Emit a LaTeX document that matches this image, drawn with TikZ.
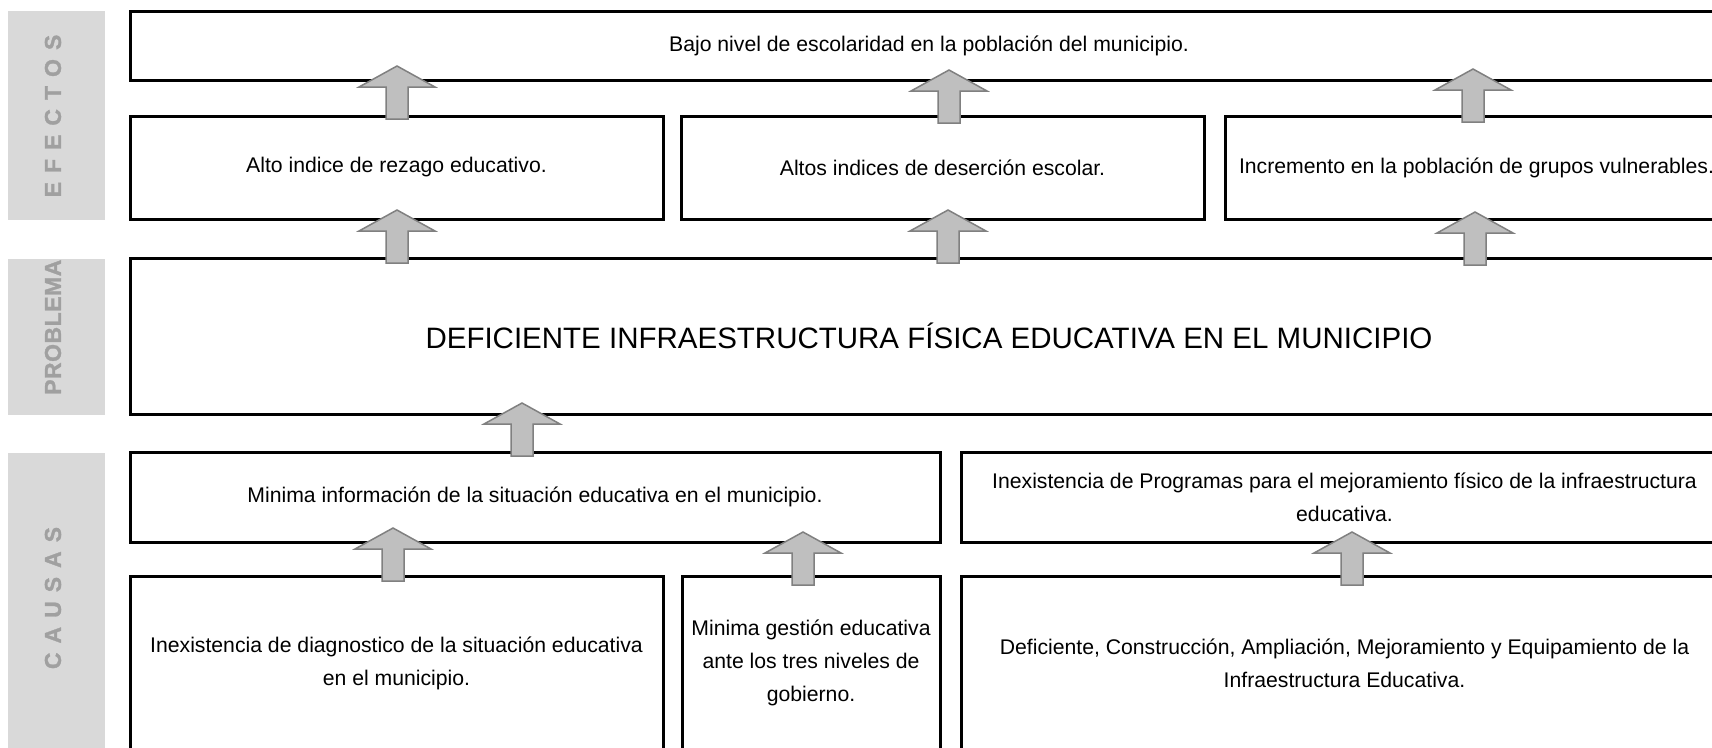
\documentclass[tikz,border=0pt]{standalone}
\usepackage{fontspec}
\setmainfont{Liberation Sans}
\newfontfamily\sidefont[FakeBold=1.2]{Liberation Sans Bold}
\definecolor{bandgray}{HTML}{D9D9D9}
\definecolor{bandtext}{HTML}{A0A0A0}
\definecolor{arrfill}{HTML}{BFBFBF}
\definecolor{arrline}{HTML}{808080}
\newcommand\lsp{\hspace{9pt}}
\newcommand\blkarrow[2]{%
  \draw[blkarrowstyle] (#1-11,#2+53) -- (#1-11,#2+21) -- (#1-38,#2+21) -- (#1,#2)
    -- (#1+38,#2+21) -- (#1+11,#2+21) -- (#1+11,#2+53) -- cycle;}
\begin{document}
\begin{tikzpicture}[x=1pt,y=-1pt,
  box/.style={draw=black, line width=3pt, fill=white, align=center,
    inner sep=0pt, outer sep=0pt, font=\fontsize{21.2}{33}\selectfont},
  blkarrowstyle/.style={fill=arrfill, draw=arrline, line width=1.5pt, line join=miter},
  sidelbl/.style={text=bandtext, font=\sidefont\fontsize{23}{23}\selectfont,
    rotate=90, inner sep=0pt}]
\useasboundingbox (0,0) rectangle (1712,747);
% side bands
\fill[bandgray] (8,11) rectangle (105,220);
\fill[bandgray] (8,259) rectangle (105,415);
\fill[bandgray] (8,453) rectangle (105,760);
\node[sidelbl] (efe) at (53,116) {E\lsp F\lsp E\lsp C\lsp T\lsp O\lsp S};
\begin{scope}
  \clip (8,259) rectangle (105,415);
  \node[sidelbl, anchor=west] (pro) at (53,395) {P\hspace{0.5pt}R\hspace{0.5pt}O\hspace{0.5pt}B\hspace{0.5pt}L\hspace{0.5pt}E\hspace{0.5pt}M\hspace{0.5pt}A};
\end{scope}
\node[sidelbl] (cau) at (53,598) {C\lsp A\lsp U\lsp S\lsp A\lsp S};
% boxes
\node[box, minimum width=1598pt, minimum height=69pt] (top) at (929,45.5)
  {Bajo nivel de escolaridad en la población del municipio.};
\node[box, minimum width=533pt, minimum height=103pt] (ea) at (396.5,167.5)
  {Alto indice de rezago educativo.};
\node[box, minimum width=523pt, minimum height=103pt] (eb) at (942.5,167.5)
  {Altos indices de deserción escolar.};
\node[box, minimum width=503pt, minimum height=103pt] (ec) at (1476.5,167.5)
  {Incremento en la población de grupos vulnerables.};
\node[box, minimum width=1598pt, minimum height=156pt,
  font=\fontsize{29.5}{35}\selectfont] (prob) at (929,336)
  {DEFICIENTE INFRAESTRUCTURA FÍSICA EDUCATIVA EN EL MUNICIPIO};
\node[box, minimum width=810pt, minimum height=90pt] (cd) at (535,497)
  {Minima información de la situación educativa en el municipio.};
\node[box, minimum width=767pt, minimum height=90pt] (ce) at (1344.5,497)
  {Inexistencia de Programas para el mejoramiento físico de la infraestructura\\educativa.};
\node[box, minimum width=533pt, minimum height=174pt] (cf) at (396.5,663)
  {Inexistencia de diagnostico de la situación educativa\\en el municipio.};
\node[box, minimum width=258pt, minimum height=174pt] (cg) at (811,663)
  {Minima gestión educativa\\ante los tres niveles de\\gobierno.};
\node[box, minimum width=767pt, minimum height=174pt] (ch) at (1344.5,663)
  {Deficiente, Construcción, Ampliación, Mejoramiento y Equipamiento de la\\Infraestructura Educativa.};
% block arrows
\blkarrow{397}{66}
\blkarrow{949}{70}
\blkarrow{1473}{69}
\blkarrow{397}{210}
\blkarrow{948}{210}
\blkarrow{1475}{212}
\blkarrow{522}{403}
\blkarrow{393}{528}
\blkarrow{803}{532}
\blkarrow{1352}{532}
\end{tikzpicture}
\end{document}
